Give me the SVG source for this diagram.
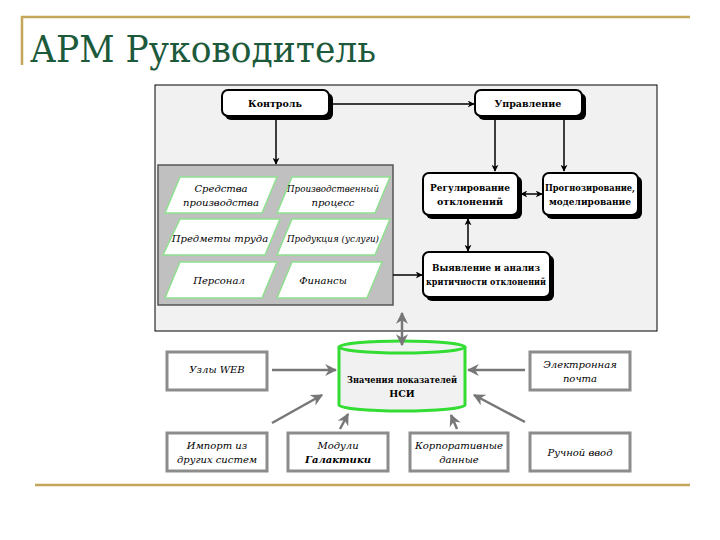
<svg xmlns="http://www.w3.org/2000/svg" width="720" height="540" viewBox="0 0 720 540">
<defs>
<marker id="ab" viewBox="0 0 10 10" refX="9" refY="5" markerWidth="7" markerHeight="7" orient="auto-start-reverse" markerUnits="userSpaceOnUse"><path d="M0,0 L10,5 L0,10 L3,5 z" fill="#000"/></marker>
<marker id="ag" viewBox="0 0 10 10" refX="9" refY="5" markerWidth="12" markerHeight="12" orient="auto-start-reverse" markerUnits="userSpaceOnUse"><path d="M0,0 L10,5 L0,10 L3,5 z" fill="#777"/></marker>
</defs>
<style>
text{font-family:'DejaVu Serif','Liberation Serif',serif}
.title{font-size:38px;fill:#1d5a3c}
.gold{stroke:#c4a65a;stroke-width:2.5;fill:none}
.rb{fill:#fff;stroke:#000;stroke-width:2}
.sh{fill:#000}
.bt{font-size:9.5px;font-weight:bold;fill:#000;text-anchor:middle}
.it{font-size:10px;font-style:italic;fill:#000;text-anchor:middle}
.pg{fill:#fff;stroke:#8fe08f;stroke-width:1.5}
.gb{fill:#fff;stroke:#8c8c8c;stroke-width:3}
.cb{stroke:#000;stroke-width:1.5;fill:none}
.cg{stroke:#777;stroke-width:2.5;fill:none}
</style>
<rect width="720" height="540" fill="#fff"/>
<g id="header">
<path class="gold" d="M22,65 V17 H690"/>
<text class="title" x="30" y="62" textLength="346" lengthAdjust="spacingAndGlyphs">АРМ Руководитель</text>
<line class="gold" x1="35" y1="485" x2="690" y2="485"/>
</g>
<rect id="frame" x="155" y="85" width="502" height="246" fill="#f1f1f1" stroke="#000" stroke-width="1"/>
<g id="panel">
<rect x="158" y="165" width="235" height="140" fill="#c0c0c0" stroke="#555" stroke-width="1.5"/>
</g>
<g id="p1"><polygon class="pg" points="180,177 277,177 262,213 165,213"/><text class="it" x="221" y="192">Средства</text><text class="it" x="221" y="206">производства</text></g>
<g id="p2"><polygon class="pg" points="292,177 390,177 375,213 277,213"/><text class="it" x="333" y="192" textLength="92" lengthAdjust="spacingAndGlyphs">Производственный</text><text class="it" x="333" y="206">процесс</text></g>
<g id="p3"><polygon class="pg" points="180,219 280,219 265,255 163,255"/><text class="it" x="220" y="242">Предметы труда</text></g>
<g id="p4"><polygon class="pg" points="292,219 390,219 375,255 277,255"/><text class="it" x="333" y="242" textLength="92" lengthAdjust="spacingAndGlyphs">Продукция (услуги)</text></g>
<g id="p5"><polygon class="pg" points="180,262 277,262 262,298 165,298"/><text class="it" x="219" y="284">Персонал</text></g>
<g id="p6"><polygon class="pg" points="292,262 382,262 367,298 277,298"/><text class="it" x="323" y="284">Финансы</text></g>
<g id="control"><rect class="sh" x="225" y="93" width="108" height="27" rx="6"/><rect class="rb" x="222" y="90" width="107" height="26" rx="6"/><text class="bt" x="275" y="107">Контроль</text></g>
<g id="manage"><rect class="sh" x="478" y="93" width="108" height="27" rx="6"/><rect class="rb" x="475" y="90" width="107" height="26" rx="6"/><text class="bt" x="528" y="107">Управление</text></g>
<g id="regul"><rect class="sh" x="426" y="176" width="96" height="43" rx="6"/><rect class="rb" x="423" y="173" width="95" height="42" rx="6"/><text class="bt" x="470" y="191" textLength="80" lengthAdjust="spacingAndGlyphs">Регулирование</text><text class="bt" x="470" y="205">отклонений</text></g>
<g id="prognoz"><rect class="sh" x="546" y="176" width="96" height="43" rx="6"/><rect class="rb" x="543" y="173" width="95" height="42" rx="6"/><text class="bt" x="590" y="191" textLength="90" lengthAdjust="spacingAndGlyphs">Прогнозирование,</text><text class="bt" x="590" y="205" textLength="82" lengthAdjust="spacingAndGlyphs">моделирование</text></g>
<g id="detect"><rect class="sh" x="426" y="255" width="128" height="46" rx="6"/><rect class="rb" x="423" y="252" width="127" height="45" rx="6"/><text class="bt" x="486" y="271" textLength="108" lengthAdjust="spacingAndGlyphs">Выявление и анализ</text><text class="bt" x="486" y="285" textLength="120" lengthAdjust="spacingAndGlyphs">критичности отклонений</text></g>
<g id="db">
<path d="M339,347 V405 A63,6 0 0 0 465,405 V347" fill="#f1f1f1" stroke="#33dd33" stroke-width="3"/>
<ellipse cx="402" cy="347" rx="63" ry="6" fill="#f1f1f1" stroke="#33dd33" stroke-width="3"/>
<text class="bt" x="402" y="383" textLength="110" lengthAdjust="spacingAndGlyphs">Значения показателей</text><text class="bt" x="402" y="397">НСИ</text>
</g>
<g id="web"><rect class="gb" x="167" y="352" width="100" height="38"/><text class="it" x="217" y="373">Узлы WEB</text></g>
<g id="mail"><rect class="gb" x="530" y="352" width="100" height="38"/><text class="it" x="580" y="368">Электронная</text><text class="it" x="580" y="382">почта</text></g>
<g id="import"><rect class="gb" x="167" y="433" width="100" height="38"/><text class="it" x="217" y="449">Импорт из</text><text class="it" x="217" y="463">других систем</text></g>
<g id="modules"><rect class="gb" x="288" y="433" width="100" height="38"/><text class="it" x="338" y="449">Модули</text><text class="it" x="338" y="463" font-weight="bold">Галактики</text></g>
<g id="corp"><rect class="gb" x="410" y="433" width="98" height="38"/><text class="it" x="459" y="449" textLength="88" lengthAdjust="spacingAndGlyphs">Корпоративные</text><text class="it" x="459" y="463">данные</text></g>
<g id="manual"><rect class="gb" x="530" y="433" width="100" height="38"/><text class="it" x="580" y="456">Ручной ввод</text></g>
<g id="connectors">
<line class="cb" x1="330" y1="104" x2="474" y2="104" marker-end="url(#ab)"/>
<line class="cb" x1="276" y1="119" x2="276" y2="164" marker-end="url(#ab)"/>
<line class="cb" x1="495" y1="119" x2="495" y2="171" marker-end="url(#ab)"/>
<line class="cb" x1="564" y1="119" x2="564" y2="171" marker-end="url(#ab)"/>
<line class="cb" x1="521" y1="194" x2="542" y2="194" marker-start="url(#ab)" marker-end="url(#ab)"/>
<line class="cb" x1="468" y1="219" x2="468" y2="251" marker-start="url(#ab)" marker-end="url(#ab)"/>
<line class="cb" x1="393" y1="275" x2="422" y2="275" marker-end="url(#ab)"/>
<line class="cg" x1="402" y1="313" x2="402" y2="345" marker-start="url(#ag)" marker-end="url(#ag)"/>
<line class="cg" x1="272" y1="370" x2="336" y2="370" marker-end="url(#ag)"/>
<line class="cg" x1="525" y1="370" x2="468" y2="370" marker-end="url(#ag)"/>
<line class="cg" x1="272" y1="423" x2="322" y2="395" marker-end="url(#ag)"/>
<line class="cg" x1="340" y1="429" x2="348" y2="414" marker-end="url(#ag)"/>
<line class="cg" x1="457" y1="429" x2="451" y2="415" marker-end="url(#ag)"/>
<line class="cg" x1="525" y1="422" x2="474" y2="395" marker-end="url(#ag)"/>
</g>
</svg>
